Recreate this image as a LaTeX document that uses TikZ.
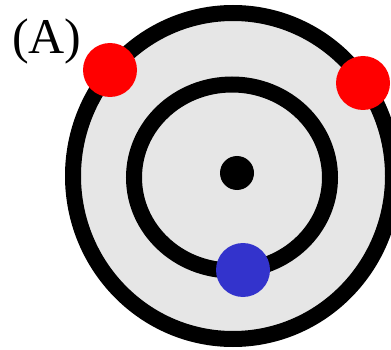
\documentclass[tikz,border=0pt]{standalone}
\usepackage{fontspec}
\setmainfont{Liberation Serif}
\definecolor{ringgray}{HTML}{E6E6E6}
\definecolor{dotred}{HTML}{FF0000}
\definecolor{dotblue}{HTML}{3333CC}
\tikzset{
  ring/.style={line width=16pt, draw=black},
  dot/.style={circle, inner sep=0pt, minimum size=54pt, draw=none},
}
\begin{document}
\begin{tikzpicture}[x=1pt,y=-1pt]
\useasboundingbox (0,0) rectangle (391,350);
\fill[ringgray] (233,176) ellipse [x radius=160, y radius=163];
\draw[ring] (233,176) ellipse [x radius=160, y radius=163];
\draw[ring] (232,177.5) ellipse [x radius=98, y radius=93];
\node[circle, fill=black, inner sep=0pt, minimum size=34pt] (core) at (237,173) {};
\node[dot, fill=dotred] (redL) at (110,70) {};
\node[dot, fill=dotred] (redR) at (363,83) {};
\node[dot, fill=dotblue] (blue) at (243,270) {};
\node[anchor=base west, inner sep=0pt, font=\fontsize{50}{50}\selectfont] (lbl) at (12,54) {(A)};
\end{tikzpicture}
\end{document}
